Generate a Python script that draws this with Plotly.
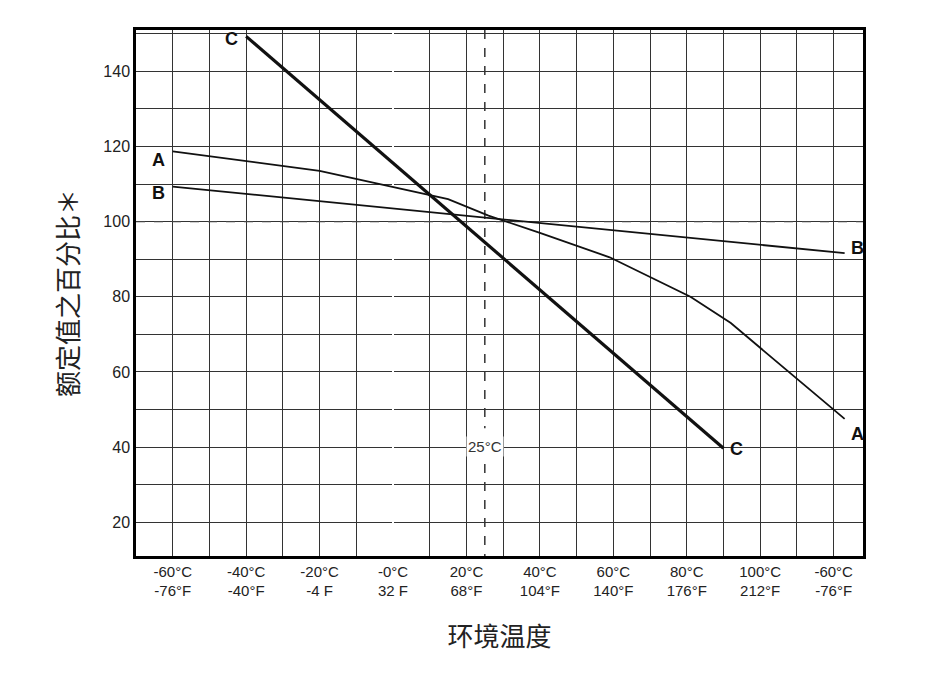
import plotly.graph_objects as go

# 读图估计的数据
a_x = [-60, -20, 15, 26, 40, 59, 81, 92, 123]
a_y = [118.7, 113.5, 106, 101.6, 97, 90.5, 80, 73, 47.5]
b_x = [-60, 123]
b_y = [109.3, 91.6]
c_x = [-40, 90]
c_y = [149.3, 39.7]

x_ticks = list(range(-60, 130, 10))
x_labels = {-60: "-60°C<br>-76°F", -40: "-40°C<br>-40°F", -20: "-20°C<br>-4 F",
            0: "-0°C<br>32 F", 20: "20°C<br>68°F", 40: "40°C<br>104°F",
            60: "60°C<br>140°F", 80: "80°C<br>176°F", 100: "100°C<br>212°F",
            120: "-60°C<br>-76°F"}
y_ticks = list(range(20, 151, 10))

fig = go.Figure()
fig.add_trace(go.Scatter(x=[-70, 128], y=[100, 100], mode="lines",
                         line=dict(color="#444", width=1.2, dash="dash")))
fig.add_trace(go.Scatter(x=[25, 25], y=[151, 45], mode="lines",
                         line=dict(color="#333", width=1.5, dash="dash")))
fig.add_trace(go.Scatter(x=[25, 25], y=[35.5, 11], mode="lines",
                         line=dict(color="#333", width=1.5, dash="dash")))
fig.add_trace(go.Scatter(x=a_x, y=a_y, mode="lines", line=dict(color="#111", width=1.8)))
fig.add_trace(go.Scatter(x=b_x, y=b_y, mode="lines", line=dict(color="#111", width=1.8)))
fig.add_trace(go.Scatter(x=c_x, y=c_y, mode="lines", line=dict(color="#111", width=3.2)))

lab_font = dict(family="Liberation Sans", size=18, color="#111")
for txt, x, y in [("A", -64, 116.5), ("B", -64, 107.5), ("C", -44, 148.5),
                  ("B", 126.5, 93), ("A", 126.5, 43.5), ("C", 93.5, 39.5)]:
    fig.add_annotation(x=x, y=y, text="<b>%s</b>" % txt, showarrow=False, font=lab_font)
fig.add_annotation(x=25, y=40.2, text="25°C", showarrow=False, bgcolor="white",
                   font=dict(family="Liberation Sans", size=15, color="#333"))

fig.update_layout(
    width=931, height=687, showlegend=False,
    plot_bgcolor="white", paper_bgcolor="white",
    margin=dict(l=128, r=76, t=22, b=139),
    xaxis=dict(range=[-70, 128], tickvals=x_ticks, automargin=False,
               ticktext=[x_labels.get(v, "") for v in x_ticks],
               showgrid=True, gridcolor="#333", gridwidth=1,
               showline=True, linecolor="black", linewidth=2.5, mirror=True,
               ticks="", tickfont=dict(family="Liberation Sans", size=15, color="#222"),
               title=dict(text="环境温度", font=dict(family="Noto Sans CJK SC", size=26, color="#222"),
                          standoff=30)),
    yaxis=dict(range=[11, 151], tickvals=y_ticks, automargin=False,
               ticktext=[str(v) if v % 20 == 0 else "" for v in y_ticks],
               showgrid=True, gridcolor="#333", gridwidth=1, zeroline=False,
               showline=True, linecolor="black", linewidth=2.5, mirror=True,
               ticks="", tickfont=dict(family="Liberation Sans", size=16, color="#222"),
               title=dict(text="额定值之百分比＊", font=dict(family="Noto Sans CJK SC", size=26, color="#222"),
                          standoff=18)),
)
fig.write_html("out.html")
